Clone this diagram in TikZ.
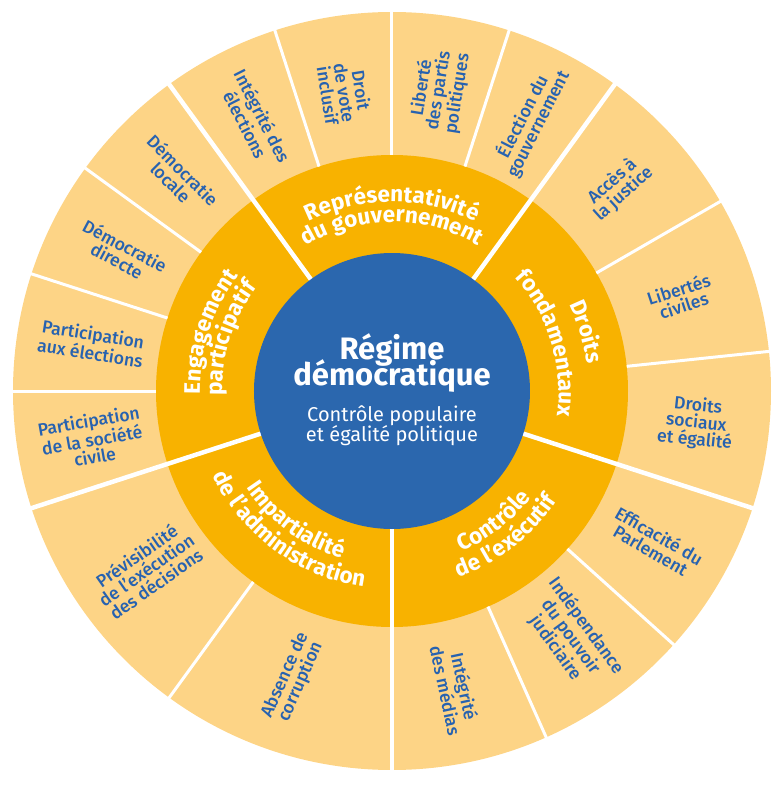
\documentclass[tikz,border=0pt]{standalone}
\usepackage{fontspec}
\setmainfont{Fira Sans}
\newfontfamily\mediumfont{Fira Sans Medium}
\usetikzlibrary{decorations.text}

\definecolor{coreblue}{HTML}{2B67AE}
\definecolor{ringamber}{HTML}{F8B200}
\definecolor{outerpale}{HTML}{FDD486}
\definecolor{labelblue}{HTML}{2762B0}

\newcommand{\ringfont}{\bfseries\fontsize{22.5}{22.5}\selectfont}

\begin{document}
\begin{tikzpicture}[
    x=1pt, y=1pt,
    subsep/.style={white, line width=3pt},
    mainsep/.style={white, line width=4.5pt},
    outerlabel/.style={text=labelblue, font=\mediumfont\fontsize{17.6}{17}\selectfont, align=center, inner sep=0pt},
    ringlabel/.style={decorate, decoration={text along path, text align=center, text color=white, text={|\ringfont|#1}}},
    coretitle/.style={anchor=base, text=white, inner sep=0pt, font=\bfseries\fontsize{31}{31}\selectfont},
    coresub/.style={anchor=base, text=white, inner sep=0pt, font=\fontsize{20}{20}\selectfont}
]
    \useasboundingbox (-392,-394) rectangle (389,391);

    % Rings
    \fill[outerpale] (0,0) circle[radius=379pt];
    \fill[ringamber] (0,0) circle[radius=236pt];

    % Separators between sub-dimensions
    \foreach \a in {72, 90, 108, 30, 6, -42, -66, 234, 144, 162, 180}
        \draw[subsep] (\a:236) -- (\a:382);
    % Separators between dimensions
    \foreach \a in {54, 126, 198, 270, 342}
        \draw[mainsep] (\a:130) -- (\a:382);

    % Core
    \fill[coreblue] (0,0) circle[radius=138pt];
    \node[coretitle] (regime) at (0,31.7) {Régime};
    \node[coretitle] (democ) at (0,5.3) {démocratique};
    \node[coresub] (controle) at (0,-30.7) {Contrôle populaire};
    \node[coresub] (egalite) at (0,-50.7) {et égalité politique};

    % Dimensions (curved text)
    \path[ringlabel={Représentativité}] (126:189) arc[start angle=126, end angle=54, radius=189pt];
    \path[ringlabel={du gouvernement}] (126:169) arc[start angle=126, end angle=54, radius=169pt];
    \path[ringlabel={Droits}] (54:197) arc[start angle=54, end angle=-20, radius=197pt];
    \path[ringlabel={fondamentaux}] (54:167) arc[start angle=54, end angle=-20, radius=167pt];
    \path[ringlabel={Contrôle}] (-90:175) arc[start angle=-90, end angle=-14, radius=175pt];
    \path[ringlabel={de l’exécutif}] (-90:198) arc[start angle=-90, end angle=-14, radius=198pt];
    \path[ringlabel={Impartialité}] (198:175) arc[start angle=198, end angle=269, radius=175pt];
    \path[ringlabel={de l’administration}] (198:198) arc[start angle=198, end angle=269, radius=198pt];
    \path[ringlabel={Engagement}] (198:192) arc[start angle=198, end angle=126, radius=192pt];
    \path[ringlabel={participatif}] (198:170) arc[start angle=198, end angle=126, radius=170pt];

    % Sub-dimensions
    \node[outerlabel, rotate=-63] (integrite) at (117:304) {Intégrité des\\élections};
    \node[outerlabel, rotate=-81] (droitvote) at (99:302) {Droit\\de vote\\inclusif};
    \node[outerlabel, rotate=81] (partis) at (81:304) {Liberté\\des partis\\politiques};
    \node[outerlabel, rotate=63] (election) at (63:304) {Élection du\\gouvernement};
    \node[outerlabel, rotate=42] (justice) at (42:304) {Accès à\\la justice};
    \node[outerlabel, rotate=18] (libertes) at (18:304) {Libertés\\civiles};
    \node[outerlabel, rotate=-6] (sociaux) at (-6:306) {Droits\\sociaux\\et égalité};
    \node[outerlabel, rotate=-30] (parlement) at (-30:304) {Efficacité du\\Parlement};
    \node[outerlabel, rotate=-54] (judiciaire) at (-54:304) {Indépendance\\du pouvoir\\judiciaire};
    \node[outerlabel, rotate=-78] (medias) at (-78:304) {Intégrité\\des médias};
    \node[outerlabel, rotate=66] (corruption) at (251:304) {Absence de\\corruption};
    \node[outerlabel, rotate=35] (previsibilite) at (216:304) {Prévisibilité\\de l’exécution\\des décisions};
    \node[outerlabel, rotate=10] (societe) at (189:304) {Participation\\de la société\\civile};
    \node[outerlabel, rotate=-9] (elections) at (171:304) {Participation\\aux élections};
    \node[outerlabel, rotate=-28] (directe) at (153:304) {Démocratie\\directe};
    \node[outerlabel, rotate=-45] (locale) at (135:304) {Démocratie\\locale};
\end{tikzpicture}
\end{document}
